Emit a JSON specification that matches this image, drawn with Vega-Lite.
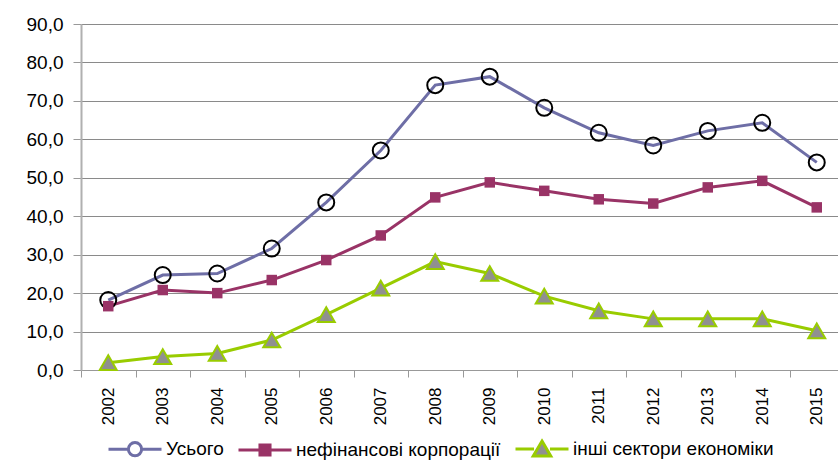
{
  "$schema": "https://vega.github.io/schema/vega-lite/v6.json",
  "autosize": "none",
  "width": 763,
  "height": 346,
  "padding": {"left": 81, "top": 24, "right": 0, "bottom": 97},
  "background": "white",
  "config": {
    "font": "Liberation Sans",
    "view": {"stroke": null},
    "axis": {"labelFont": "Liberation Sans", "labelColor": "#000000"}
  },
  "data": {
    "values": [
      {"year": "2002", "series": "Усього", "value": 18.2},
      {"year": "2003", "series": "Усього", "value": 24.7},
      {"year": "2004", "series": "Усього", "value": 25.1},
      {"year": "2005", "series": "Усього", "value": 31.6},
      {"year": "2006", "series": "Усього", "value": 43.6},
      {"year": "2007", "series": "Усього", "value": 57.1},
      {"year": "2008", "series": "Усього", "value": 74.1},
      {"year": "2009", "series": "Усього", "value": 76.3},
      {"year": "2010", "series": "Усього", "value": 68.2},
      {"year": "2011", "series": "Усього", "value": 61.7},
      {"year": "2012", "series": "Усього", "value": 58.4},
      {"year": "2013", "series": "Усього", "value": 62.2},
      {"year": "2014", "series": "Усього", "value": 64.3},
      {"year": "2015", "series": "Усього", "value": 54.0},
      {"year": "2002", "series": "нефінансові корпорації", "value": 16.6},
      {"year": "2003", "series": "нефінансові корпорації", "value": 20.8},
      {"year": "2004", "series": "нефінансові корпорації", "value": 20.0},
      {"year": "2005", "series": "нефінансові корпорації", "value": 23.4},
      {"year": "2006", "series": "нефінансові корпорації", "value": 28.6},
      {"year": "2007", "series": "нефінансові корпорації", "value": 35.0},
      {"year": "2008", "series": "нефінансові корпорації", "value": 44.9},
      {"year": "2009", "series": "нефінансові корпорації", "value": 48.8},
      {"year": "2010", "series": "нефінансові корпорації", "value": 46.6},
      {"year": "2011", "series": "нефінансові корпорації", "value": 44.4},
      {"year": "2012", "series": "нефінансові корпорації", "value": 43.3},
      {"year": "2013", "series": "нефінансові корпорації", "value": 47.5},
      {"year": "2014", "series": "нефінансові корпорації", "value": 49.2},
      {"year": "2015", "series": "нефінансові корпорації", "value": 42.3},
      {"year": "2002", "series": "інші сектори економіки", "value": 1.9},
      {"year": "2003", "series": "інші сектори економіки", "value": 3.5},
      {"year": "2004", "series": "інші сектори економіки", "value": 4.3},
      {"year": "2005", "series": "інші сектори економіки", "value": 7.8},
      {"year": "2006", "series": "інші сектори економіки", "value": 14.4},
      {"year": "2007", "series": "інші сектори економіки", "value": 21.3},
      {"year": "2008", "series": "інші сектори економіки", "value": 28.2},
      {"year": "2009", "series": "інші сектори економіки", "value": 25.1},
      {"year": "2010", "series": "інші сектори економіки", "value": 19.2},
      {"year": "2011", "series": "інші сектори економіки", "value": 15.4},
      {"year": "2012", "series": "інші сектори економіки", "value": 13.3},
      {"year": "2013", "series": "інші сектори економіки", "value": 13.3},
      {"year": "2014", "series": "інші сектори економіки", "value": 13.3},
      {"year": "2015", "series": "інші сектори економіки", "value": 10.2}
    ]
  },
  "encoding": {
    "x": {
      "field": "year",
      "type": "ordinal",
      "bandPosition": 0.5,
      "scale": {"type": "band", "paddingInner": 0, "paddingOuter": 0},
      "axis": {
        "title": null,
        "labelAngle": -90,
        "labelAlign": "right",
        "labelBaseline": "middle",
        "labelFontSize": 17,
        "labelPadding": 10,
        "tickBand": "extent",
        "tickSize": 7,
        "tickColor": "#999999",
        "domainColor": "#999999",
        "domainWidth": 1,
        "grid": false
      }
    },
    "y": {
      "field": "value",
      "type": "quantitative",
      "scale": {"domain": [0, 90], "nice": false},
      "axis": {
        "title": null,
        "values": [0, 10, 20, 30, 40, 50, 60, 70, 80, 90],
        "labelExpr": "replace(format(datum.value, '.1f'), '.', ',')",
        "labelFontSize": 19,
        "labelPadding": 10,
        "tickSize": 8,
        "tickColor": "#999999",
        "domainColor": "#b0b0b0",
        "domainWidth": 2,
        "grid": true,
        "gridColor": "#8a8a8a",
        "gridWidth": 1
      }
    }
  },
  "layer": [
    {
      "mark": {"type": "line", "strokeWidth": 3},
      "encoding": {
        "color": {
          "field": "series",
          "type": "nominal",
          "scale": {
            "domain": ["Усього", "нефінансові корпорації", "інші сектори економіки"],
            "range": ["#6E6EA6", "#993366", "#99CC00"]
          },
          "legend": {
            "title": null,
            "orient": "none",
            "direction": "horizontal",
            "legendX": 26,
            "legendY": 397,
            "padding": 0,
            "symbolSize": 2809,
            "symbolStrokeWidth": 3,
            "labelFontSize": 19,
            "labelFont": "Liberation Sans",
            "labelColor": "#000000",
            "labelOffset": 3,
            "columnPadding": 8,
            "labelLimit": 400,
            "encode": {
              "symbols": {
                "update": {
                  "shape": {"signal": "datum.value === 'Усього' ? 'M-1,0H-0.25M0.25,0H1M-0.25,0A0.25,0.25,0,1,1,0.25,0A0.25,0.25,0,1,1,-0.25,0Z' : (datum.value === 'нефінансові корпорації' ? 'M-1,0H1M-0.19,-0.19H0.19V0.19H-0.19Z' : 'M-1,0H-0.3M0.3,0H1M0,-0.3L0.33,0.26H-0.33Z')"},
                  "fill": {"signal": "datum.value === 'Усього' ? 'transparent' : (datum.value === 'нефінансові корпорації' ? '#993366' : '#909090')"}
                }
              }
            }
          }
        }
      }
    },
    {
      "transform": [{"filter": "datum.series === 'Усього'"}],
      "mark": {"type": "point", "shape": "circle", "filled": false, "stroke": "#000000", "strokeWidth": 2, "size": 256, "opacity": 1}
    },
    {
      "transform": [{"filter": "datum.series === 'нефінансові корпорації'"}],
      "mark": {"type": "point", "shape": "square", "filled": true, "color": "#993366", "size": 110, "opacity": 1}
    },
    {
      "transform": [{"filter": "datum.series === 'інші сектори економіки'"}],
      "mark": {"type": "point", "shape": "triangle-up", "filled": true, "fill": "#909090", "stroke": "#99CC00", "strokeWidth": 2, "size": 289, "opacity": 1}
    }
  ]
}
